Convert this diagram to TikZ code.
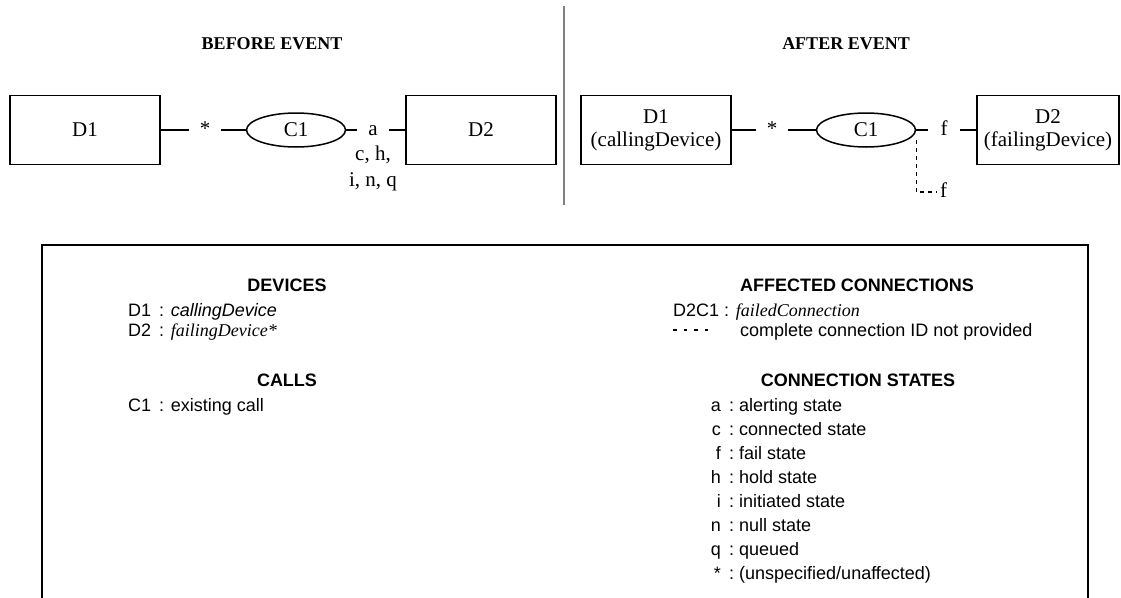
\documentclass[tikz,border=0pt]{standalone}
\usepackage{fontspec}
\setmainfont{Liberation Serif}
\setsansfont{Liberation Sans}
\usetikzlibrary{shapes.geometric}

\begin{document}
\begin{tikzpicture}[x=1pt, y=-1pt,
  every node/.style={inner sep=0pt, font=\fontsize{21}{23}\selectfont},
  device/.style={draw, line width=1.5pt, minimum width=150pt, minimum height=69pt, align=center},
  callnode/.style={draw, ellipse, line width=1.5pt, minimum width=99pt, minimum height=34pt},
  gap/.style={minimum width=32pt, text height=14pt, text depth=4pt},
  lbl/.style={text height=14pt, text depth=4pt},
  conn/.style={line width=1.5pt},
  title/.style={font=\fontsize{18}{20}\selectfont\bfseries},
  lgd/.style={font=\sffamily\fontsize{18}{20}\selectfont},
  lhead/.style={font=\sffamily\bfseries\fontsize{18}{20}\selectfont}]

  \useasboundingbox (0,0) rectangle (1121,597);

  % before / after
  \draw[gray, line width=1.5pt] (564,6) -- (564,205);
  \node (before) [title] at (272,44) {BEFORE EVENT};
  \node (after) [title] at (846,44) {AFTER EVENT};

  \node (d1b) [device] at (85,130) {D1};
  \node (c1b) [callnode] at (296,130) {C1};
  \node (d2b) [device] at (481,130) {D2};
  \node (sb) [gap] at (205,130) {*};
  \node (ab) [gap] at (373,130) {a};
  \node (chb) [lbl] at (373,155) {c, h,};
  \node (inqb) [lbl] at (373,181) {i, n, q};
  \draw[conn] (d1b) -- (sb) -- (c1b);
  \draw[conn] (c1b) -- (ab) -- (d2b);

  \node (d1a) [device] at (656,130) {D1\\(callingDevice)};
  \node (c1a) [callnode] at (866,130) {C1};
  \node (d2a) [device, minimum width=142pt] at (1048,130) {D2\\(failingDevice)};
  \node (sa) [gap] at (772,130) {*};
  \node (fa) [gap] at (944,130) {f};
  \node (fd) [lbl, anchor=west, inner xsep=3pt] at (937,192) {f};
  \draw[conn] (d1a) -- (sa) -- (c1a);
  \draw[conn] (c1a) -- (fa) -- (d2a);
  \draw[conn, dash pattern=on 4pt off 4pt] ([yshift=-10pt]c1a.east) |- (fd);

  % legend
  \draw[line width=1.5pt] (42,600) |- (1088,245) -- (1088,600);
  \node (hdev) [lhead] at (287,285) {DEVICES};
  \node (hcall) [lhead] at (287,380) {CALLS};
  \node (haff) [lhead] at (857,285) {AFFECTED CONNECTIONS};
  \node (hstate) [lhead] at (858,380) {CONNECTION STATES};

  \node (ld1) [lgd, anchor=base west] at (128,316) {D1 \,: \textit{callingDevice}};
  \node (ld2) [lgd, anchor=base west] at (128,336) {D2 \,: {\rmfamily\itshape failingDevice*}};
  \node (lc1) [lgd, anchor=base west] at (128,411) {C1 \,: existing call};
  \node (ld2c1) [lgd, anchor=base west] at (673,316) {D2C1 : {\rmfamily\itshape failedConnection}};
  \coordinate (dashl) at (673,330);
  \coordinate (dashr) at (710,330);
  \draw[line width=1.2pt, dash pattern=on 3.5pt off 7pt] (dashl) -- (dashr);
  \node (lnoid) [lgd, anchor=base west] at (740,336) {complete connection ID not provided};

  \foreach \k/\s [count=\i] in {a/alerting state, c/connected state, f/fail state,
      h/hold state, i/initiated state, n/null state, q/queued, {*}/{(unspecified/unaffected)}} {
    \node (st\i) [lgd, anchor=base east] at (721,411+24*\i-24) {\k};
    \node (sv\i) [lgd, anchor=base west] at (729,411+24*\i-24) {:\ \s};
  }
\end{tikzpicture}
\end{document}
